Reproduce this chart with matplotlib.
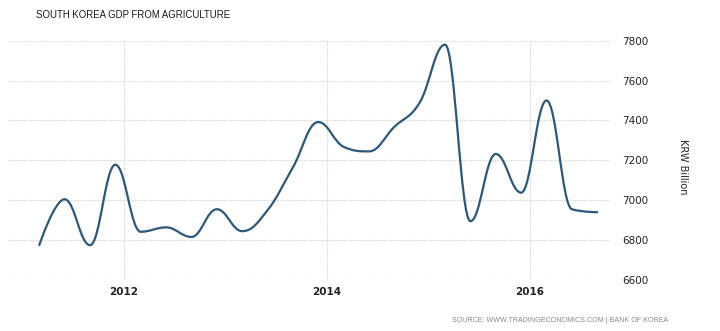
import numpy as np
import matplotlib
matplotlib.use('Agg')
from matplotlib import pyplot as plt
from matplotlib.path import Path
from matplotlib.patches import PathPatch

# quarterly values, 2011 Q1 .. 2016 Q3 (KRW billion)
quarters = ['2011Q1', '2011Q2', '2011Q3', '2011Q4',
            '2012Q1', '2012Q2', '2012Q3', '2012Q4',
            '2013Q1', '2013Q2', '2013Q3', '2013Q4',
            '2014Q1', '2014Q2', '2014Q3', '2014Q4',
            '2015Q1', '2015Q2', '2015Q3', '2015Q4',
            '2016Q1', '2016Q2', '2016Q3']
gdp = [6775, 7005, 6775, 7178,
       6842, 6864, 6816, 6955,
       6845, 6950, 7165, 7392,
       7268, 7245, 7368, 7490,
       7780, 6895, 7232, 7038,
       7500, 6955, 6940]
yticks = [6600, 6800, 7000, 7200, 7400, 7600, 7800]
xticks = [2012, 2014, 2016]

LINE = '#2d5877'


def to_year(q):
	y, n = q.split('Q')
	return int(y) + (int(n) - 1) * 0.25 + 0.166


def spline_path(ax, x, y, smooth=1.5):
	# highcharts-style bezier spline, done in display coords
	pts = ax.transData.transform(np.column_stack([x, y]))
	n = len(pts)
	lc = pts.copy()
	rc = pts.copy()
	d = smooth + 1
	for i in range(1, n - 1):
		px, py = pts[i]
		lx, ly = pts[i - 1]
		nx, ny = pts[i + 1]
		lcx, lcy = (smooth * px + lx) / d, (smooth * py + ly) / d
		rcx, rcy = (smooth * px + nx) / d, (smooth * py + ny) / d
		if rcx != lcx:
			corr = (rcy - lcy) * (rcx - px) / (rcx - lcx) + py - rcy
			lcy += corr
			rcy += corr
			if lcy > ly and lcy > py:
				lcy = max(ly, py); rcy = 2 * py - lcy
			elif lcy < ly and lcy < py:
				lcy = min(ly, py); rcy = 2 * py - lcy
			if rcy > ny and rcy > py:
				rcy = max(ny, py); lcy = 2 * py - rcy
			elif rcy < ny and rcy < py:
				rcy = min(ny, py); lcy = 2 * py - rcy
		lc[i] = (lcx, lcy)
		rc[i] = (rcx, rcy)
	verts = [tuple(pts[0])]
	codes = [Path.MOVETO]
	for i in range(1, n):
		verts += [tuple(rc[i - 1]), tuple(lc[i]), tuple(pts[i])]
		codes += [Path.CURVE4] * 3
	return Path(verts, codes)


xs = [to_year(q) for q in quarters]

fig = plt.figure(figsize=(7.2, 3.31), dpi=100)
ax = fig.add_axes([0.011, 0.154, 0.836, 0.723])

ax.set_xlim(2010.857, 2016.79)
ax.set_ylim(6600, 7800)
ax.set_yticks(yticks)
ax.set_xticks(xticks)
ax.set_xticklabels([str(t) for t in xticks])
ax.yaxis.tick_right()
ax.tick_params(axis='y', length=0, pad=9, labelsize=7.5, labelcolor='#222222')
ax.tick_params(axis='x', length=0, pad=5, labelsize=7.5, labelcolor='#222222')
for lab in ax.get_xticklabels():
	lab.set_fontweight('bold')

ax.grid(True, color='#d2d2d2', lw=0.8, linestyle=(0, (1, 1)))
for s in ax.spines.values():
	s.set_visible(False)

path = spline_path(ax, xs, gdp)
ax.add_patch(PathPatch(path, transform=None, facecolor='none', edgecolor=LINE,
					   lw=1.6, capstyle='round', joinstyle='round', zorder=3))

fig.text(36 / 720, 1 - 15 / 331, 'SOUTH KOREA GDP FROM AGRICULTURE', fontsize=6.9,
		 family='Liberation Sans', color='#1a1a1a', va='center', ha='left')
fig.text(683 / 720, 1 - 167 / 331, 'KRW Billion', rotation=270, fontsize=7,
		 color='#222222', va='center', ha='center')
fig.text(668 / 720, 1 - 320 / 331, 'SOURCE: WWW.TRADINGECONOMICS.COM | BANK OF KOREA',
		 fontsize=5.1, family='Liberation Sans', color='#888888', va='center', ha='right')

fig.savefig('out.png', dpi=100)
